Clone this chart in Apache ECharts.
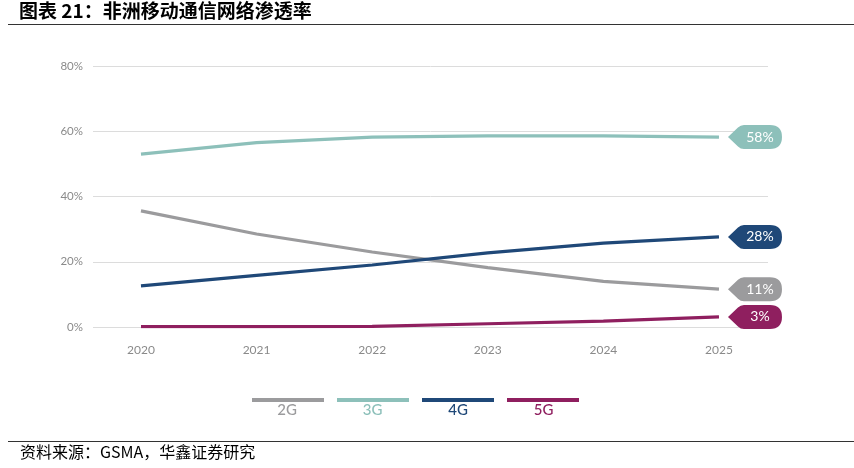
<!DOCTYPE html>
<html><head><meta charset="utf-8">
<script src="https://cdn.jsdelivr.net/npm/echarts@6/dist/echarts.min.js"></script>
<style>html,body{margin:0;padding:0;background:#fff}#c{width:854px;height:468px}</style>
</head><body><div id="c"></div>
<script>
const years = [2020, 2021, 2022, 2023, 2024, 2025];
const s2G = [35.6, 28.5, 23, 18.2, 14, 11.6];
const s3G = [53, 56.5, 58.2, 58.6, 58.6, 58.2];
const s4G = [12.6, 15.8, 19, 22.7, 25.7, 27.6];
const s5G = [0.1, 0.1, 0.2, 1, 1.8, 3.1];
const endLabels = ['11%', '58%', '28%', '3%'];
const names = ['2G', '3G', '4G', '5G'];
const colors = ['#9b9b9d', '#8dc0ba', '#1f4878', '#8f1f5f'];
const textColors = ['#9b9b9d', '#8dc0ba', '#1f4878', '#8f1f5f'];
const yTicks = [0, 20, 40, 60, 80];

const tagPath = 'path://M0,12 L10,2.5 Q12.5,0 16,0 L42,0 Q54,0 54,12 Q54,24 42,24 L16,24 Q12.5,24 10,21.5 Z';
const all = [s2G, s3G, s4G, s5G];
const series = all.map((arr, i) => ({
  name: names[i], type: 'line', symbol: 'none',
  data: arr.map((v, j) => [years[j], v]),
  lineStyle: { color: colors[i], width: 3.2 },
  itemStyle: { color: colors[i] },
  z: 3,
  markPoint: {
    symbol: tagPath, symbolSize: [54, 24], symbolKeepAspect: false,
    symbolOffset: [36, 0],
    label: { show: true, formatter: endLabels[i], color: '#fff', fontSize: 14, fontFamily: 'Lato', offset: [5, 0] },
    itemStyle: { color: colors[i] },
    data: [{ coord: [years[5], arr[5]] }]
  }
}));

const chart = echarts.init(document.getElementById('c'));
chart.setOption({
  animation: false,
  grid: { left: 93, right: 86, top: 66, bottom: 141 },
  xAxis: {
    type: 'value', min: 2019.585, max: 2025.424,
    splitLine: { show: false }, axisLine: { show: false }, axisTick: { show: false },
    axisLabel: { color: '#8a8a8a', fontSize: 12, fontFamily: 'Lato', margin: 17,
      formatter: v => Number.isInteger(v) ? String(v) : '' ,
      showMinLabel: false, showMaxLabel: false }
  },
  yAxis: {
    type: 'value', min: 0, max: 80, interval: 20,
    axisLine: { show: false }, axisTick: { show: false },
    splitLine: { lineStyle: { color: '#dcdcdc', width: 1 } },
    axisLabel: { color: '#8a8a8a', fontSize: 11.5, fontFamily: 'Lato', margin: 10, formatter: '{value}%' }
  },
  legend: {
    left: 247, top: 393, itemWidth: 72, itemHeight: 4, itemGap: 13,
    icon: 'rect', formatter: () => '', selectedMode: false,
    data: names
  },
  graphic: [
    { type: 'text', left: 19, top: 1, style: { text: '图表 21：非洲移动通信网络渗透率', font: 'bold 19px "Noto Sans CJK SC"', fill: '#000' } },
    { type: 'line', shape: { x1: 8, y1: 24.5, x2: 854, y2: 24.5 }, style: { stroke: '#333', lineWidth: 1 } },
    { type: 'line', shape: { x1: 8, y1: 441.5, x2: 854, y2: 441.5 }, style: { stroke: '#333', lineWidth: 1 } },
    { type: 'text', left: 20, top: 444, style: { text: '资料来源：GSMA，华鑫证券研究', font: '16px "Noto Sans CJK SC"', fill: '#000' } }
  ].concat(names.map((n, i) => ({
    type: 'text', x: 287 + i * 85.5, y: 410, style: { text: n, font: '500 15px Lato', fill: textColors[i], align: 'center', verticalAlign: 'middle' }
  }))),
  series: series
});
</script></body></html>
